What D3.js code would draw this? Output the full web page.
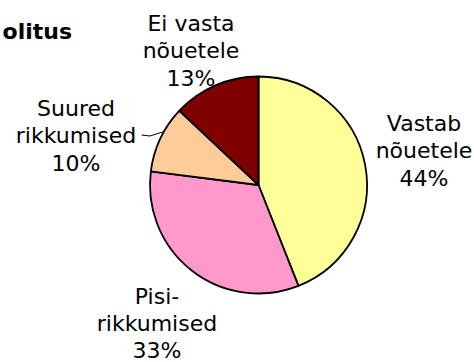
<!DOCTYPE html>
<html>
<head>
<meta charset="utf-8">
<script src="https://cdn.jsdelivr.net/npm/d3@7"></script>
<style>
  html, body { margin: 0; padding: 0; background: #fff; }
  svg { display: block; }
  text { font-family: "DejaVu Sans", Verdana, sans-serif; fill: #000; }
</style>
</head>
<body>
<svg id="chart" width="474" height="362"></svg>
<script>
// Kontrolli tulemused: osakaalud protsentides
const categories = [
  ["Vastab", "nõuetele"],
  ["Pisi-", "rikkumised"],
  ["Suured", "rikkumised"],
  ["Ei vasta", "nõuetele"]
];
const values = [44, 33, 10, 13];
const colors = ["#FFFF99", "#FF99CC", "#FFCC99", "#800000"];
const titleText = "olitus";

// Sildi keskpunkt (x) ja esimese rea alusjoon (y)
const labelAnchors = [
  [424, 131],
  [157, 303.5],
  [76, 116],
  [191, 31]
];

const svg = d3.select("#chart");
const cx = 258.5, cy = 185, r = 108.5;

svg.append("text")
  .attr("x", 72).attr("y", 39)
  .attr("text-anchor", "end")
  .style("font-size", "22px")
  .style("font-weight", "bold")
  .text(titleText);

const pie = d3.pie().sort(null).value(d => d)(values);
const arc = d3.arc().innerRadius(0).outerRadius(r);

const g = svg.append("g").attr("transform", `translate(${cx},${cy})`);
g.selectAll("path.slice")
  .data(pie)
  .join("path")
  .attr("class", "slice")
  .attr("d", arc)
  .attr("fill", (d, i) => colors[i])
  .attr("stroke", "#000")
  .attr("stroke-width", 1.8)
  .attr("stroke-linejoin", "round");

// Suurte rikkumiste sildi juhtjoon lõigu servani
const small = pie[2];
const edgeAngle = small.startAngle + (small.endAngle - small.startAngle) * 0.62;
const edge = [cx + r * Math.sin(edgeAngle), cy - r * Math.cos(edgeAngle)];
svg.append("path")
  .attr("d", d3.line()([[141.5, 135], [150, 136], edge]))
  .attr("fill", "none")
  .attr("stroke", "#000")
  .attr("stroke-width", 1);

const lineH = 27.3;
const labels = svg.selectAll("text.lbl")
  .data(values)
  .join("text")
  .attr("class", "lbl")
  .attr("text-anchor", "middle")
  .style("font-size", "22px");

labels.each(function(v, i) {
  const t = d3.select(this);
  const [x, y] = labelAnchors[i];
  const lines = categories[i].concat([v + "%"]);
  lines.forEach((s, k) => {
    t.append("tspan").attr("x", x).attr("y", y + k * lineH).text(s);
  });
});
</script>
</body>
</html>
